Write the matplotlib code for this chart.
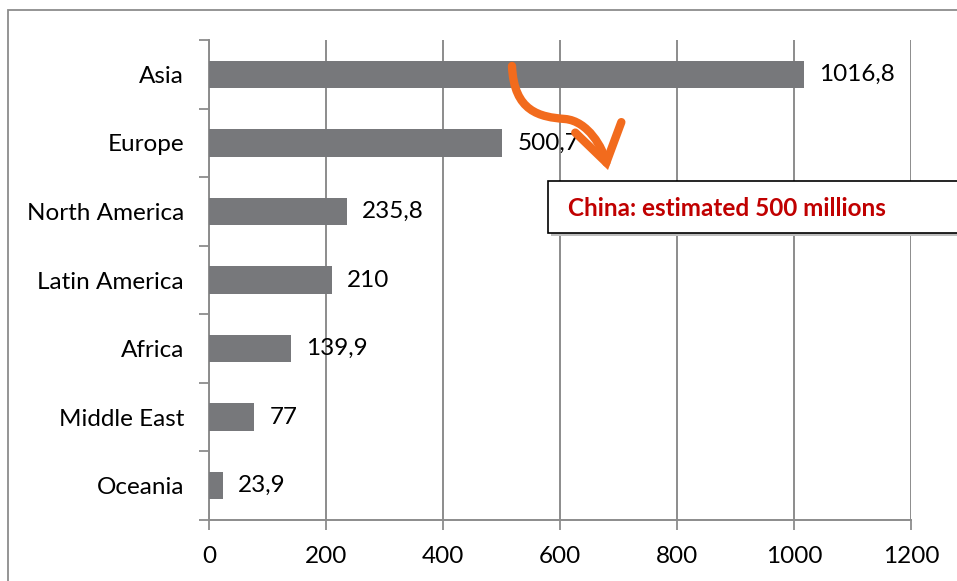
import matplotlib
matplotlib.use("Agg")
import matplotlib.pyplot as plt
from matplotlib.patches import Rectangle, FancyArrowPatch
from matplotlib.path import Path

plt.rcParams['font.family'] = ['Lato', 'DejaVu Sans']

# Data
regions = ["Asia", "Europe", "North America", "Latin America", "Africa", "Middle East", "Oceania"]
users = [1016.8, 500.7, 235.8, 210, 139.9, 77, 23.9]
x_ticks = [0, 200, 400, 600, 800, 1000, 1200]

W, H = 957, 581
fig = plt.figure(figsize=(W / 100, H / 100), dpi=100)

def fx(px):
    return px / W

def fy(py):
    return 1 - py / H

# outer frame of the chart area
fig.patches.append(Rectangle((fx(8), fy(H + 20)), fx(W + 20) - fx(8), fy(10) - fy(H + 20),
                             transform=fig.transFigure, fill=False, edgecolor='#8c8c8c', lw=1.3))

ax = fig.add_axes([fx(209), fy(520), fx(911) - fx(209), fy(40) - fy(520)])

pos = list(range(len(regions)))
ax.barh(pos, users, height=0.4, color='#77787b', zorder=3)

for p, v in zip(pos, users):
    lbl = f"{v:g}".replace('.', ',')
    ax.annotate(lbl, (v, p), textcoords="offset points", xytext=(11, 0),
                va='center', ha='left', fontsize=17.5, color='black', zorder=4)

ax.set_xlim(0, 1200)
ax.set_ylim(len(regions) - 0.5, -0.5)
ax.set_xticks(x_ticks)
ax.set_xticklabels([str(t) for t in x_ticks], fontsize=17.5)
ax.set_yticks(pos)
ax.set_yticklabels(regions, fontsize=17.5)
ax.set_yticks([p - 0.5 for p in pos] + [len(regions) - 0.5], minor=True)

ax.tick_params(axis='y', which='major', length=0, pad=18)
ax.tick_params(axis='y', which='minor', length=7, width=1.3, color='#8c8c8c', direction='out')
ax.tick_params(axis='x', length=7, width=1.3, color='#8c8c8c', direction='out', pad=12)

ax.grid(axis='x', color='#8c8c8c', linewidth=1.4, zorder=0)
ax.set_axisbelow(True)
for s in ['top', 'right']:
    ax.spines[s].set_visible(False)
for s in ['left', 'bottom']:
    ax.spines[s].set_color('#8c8c8c')
    ax.spines[s].set_linewidth(1.4)

# annotation box
fig.patches.append(Rectangle((fx(551), fy(236)), fx(W + 20) - fx(551), fy(184) - fy(236),
                             transform=fig.transFigure, facecolor='#bdbdbd', edgecolor='none', zorder=5))
fig.patches.append(Rectangle((fx(548), fy(233)), fx(W + 20) - fx(548), fy(181) - fy(233),
                             transform=fig.transFigure, facecolor='white', edgecolor='black', lw=1.2, zorder=6))
fig.text(fx(568), fy(208), "China: estimated 500 millions", color='#c00000', fontsize=17.5,
         fontweight='bold', va='center', ha='left', zorder=7)

# curved orange arrow
verts = [(512, 66), (514, 112), (540, 117), (565, 119), (588, 121), (603, 148), (608, 170)]
verts = [(fx(x), fy(y)) for x, y in verts]
codes = [Path.MOVETO] + [Path.CURVE4] * 6
arrow = FancyArrowPatch(path=Path(verts, codes), transform=fig.transFigure,
                        arrowstyle="->,head_length=1.3,head_width=0.85", mutation_scale=20,
                        shrinkA=0, shrinkB=0,
                        color='#f26b1d', lw=6, joinstyle='miter', capstyle='round', zorder=8)
fig.patches.append(arrow)

fig.savefig("out.png", dpi=100)
